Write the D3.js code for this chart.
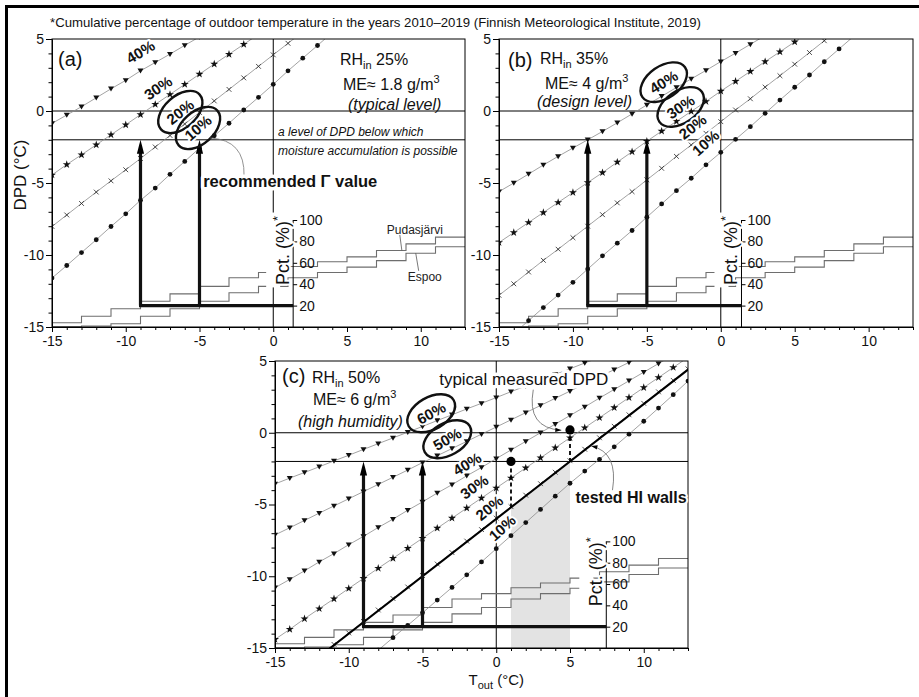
<!DOCTYPE html>
<html>
<head>
<meta charset="utf-8">
<script src="https://cdn.jsdelivr.net/npm/d3@7"></script>
<style>
  body { margin: 0; background: #fff; }
  svg { display: block; font-family: "Liberation Sans", Arial, Helvetica, sans-serif; }
  .halo { paint-order: stroke; stroke: #fff; stroke-width: 4px; stroke-linejoin: round; }
  .halo-wide { paint-order: stroke; stroke: #fff; stroke-width: 7px; stroke-linejoin: round; }
</style>
</head>
<body>
<svg id="chart" width="919" height="697"></svg>
<script>
// Outdoor temperature grid (°C) shared by all DPD curves
const tOut = [-15,-14,-13,-12,-11,-10,-9,-8,-7,-6,-5,-4,-3,-2,-1,0,1,2,3,4,5,6,7,8,9,10,11,12,13];

// DPD (°C) curves for RH_in 25 % (panel a), keyed by outdoor RH
const a40 = [-0.86,-0.28,0.3,0.92,1.54,2.13,2.79,3.37,3.95,4.56,5.15];
const a30 = [-4.44,-3.72,-3.04,-2.35,-1.65,-0.96,-0.25,0.46,1.15,1.85,2.56,3.26,3.94,4.63,5.33];
const a20 = [-8.02,-7.22,-6.42,-5.63,-4.85,-4.08,-3.3,-2.5,-1.7,-0.9,-0.1,0.7,1.5,2.3,3.1,3.9,4.7,5.5];
const a10 = [-11.6,-10.73,-9.83,-8.94,-8.02,-7.14,-6.2,-5.35,-4.4,-3.5,-2.58,-1.72,-0.85,0.07,0.95,1.85,2.79,3.67,4.55,5.45];

// RH_in 35 % (panel b)
const b40 = [-5.6,-5.0,-4.38,-3.75,-3.15,-2.57,-2.0,-1.42,-0.82,-0.2,0.42,1.02,1.63,2.23,2.82,3.43,4.02,4.63,5.24];
const b30 = [-9.13,-8.44,-7.74,-7.05,-6.35,-5.66,-4.97,-4.28,-3.55,-2.83,-2.1,-1.4,-0.72,-0.03,0.66,1.38,2.06,2.75,3.43,4.11,4.8,5.5];
const b20 = [-12.8,-12.0,-11.18,-10.37,-9.6,-8.8,-8.0,-7.2,-6.38,-5.6,-4.78,-3.98,-3.15,-2.36,-1.55,-0.74,0.07,0.85,1.66,2.45,3.25,4.06,4.88,5.7];
const b10 = [-16.35,-15.45,-14.56,-13.65,-12.78,-11.9,-10.98,-10.06,-9.18,-8.3,-7.37,-6.45,-5.53,-4.67,-3.74,-2.87,-1.97,-1.09,-0.16,0.76,1.65,2.5,3.42,4.31,5.2];

// RH_in 50 % (panel c)
const c60 = [-3.57,-3.16,-2.77,-2.37,-1.96,-1.57,-1.16,-0.76,-0.36,0.04,0.44,0.85,1.25,1.66,2.05,2.45,2.86,3.26,3.65,4.06,4.46,4.86,5.26];
const c50 = [-7.12,-6.62,-6.11,-5.6,-5.1,-4.6,-4.1,-3.6,-3.1,-2.6,-2.08,-1.6,-1.1,-0.6,-0.1,0.4,0.9,1.4,1.9,2.4,2.9,3.4,3.9,4.4,4.9,5.4];
const c40 = [-10.8,-10.22,-9.62,-9.0,-8.42,-7.8,-7.22,-6.6,-6.02,-5.4,-4.82,-4.2,-3.62,-3.0,-2.42,-1.8,-1.2,-0.6,0.0,0.6,1.2,1.8,2.42,3.02,3.62,4.22,4.82,5.42];
const c30 = [-14.4,-13.7,-12.96,-12.26,-11.57,-10.85,-10.15,-9.44,-8.75,-8.05,-7.35,-6.65,-5.95,-5.25,-4.55,-3.85,-3.15,-2.45,-1.75,-1.05,-0.35,0.35,1.05,1.75,2.45,3.15,3.85,4.55,5.25];
const c20 = [null,null,null,-15.55,-14.75,-13.95,-13.15,-12.35,-11.55,-10.75,-9.95,-9.15,-8.35,-7.55,-6.75,-5.95,-5.15,-4.35,-3.55,-2.75,-1.95,-1.15,-0.35,0.45,1.25,2.05,2.85,3.65,4.45];
const c10 = [null,null,null,null,null,null,null,-15.15,-14.28,-13.42,-12.55,-11.66,-10.78,-9.9,-9.0,-8.08,-7.17,-6.26,-5.34,-4.42,-3.52,-2.67,-1.85,-0.98,-0.1,0.8,1.72,2.65,3.6];

// Tested HI walls and typical measured DPD (panel c)
const testedT = [-15, 13];
const testedDPD = [-18, 4.4];
const measuredT = [1, 5];
const measuredDPD = [-2, 0.2];

// Cumulative share (%) of hours below each 2 °C temperature band, 2010–2019
const stepEdges = [-15,-13,-11,-9,-7,-5,-3,-1,1,3,5,7,9,11,13];
const pctPudasjarvi = [4,10,17,24,31,38,46,51,56.5,61,65.5,71.5,77.7,84];
const pctEspoo = [0.3,1,3,10,17,24,32,38,46,51,56,62,69,75];

// Axis ticks
const dpdTicks = [5,0,-5,-10,-15];
const tTicks = [-15,-10,-5,0,5,10];
const pctTicks = [20,40,60,80,100];

// Reference levels and arrows
const dpdLevels = [0, -2];
const arrowT = [-9, -5];
const arrowPct = 20;
const arrowTopDPD = -2;

const svg = d3.select("#chart");
const defs = svg.append("defs");

function pad(vals) {
  const out = vals.slice();
  while (out.length < tOut.length) out.push(null);
  return out;
}

function head(g, tip, from, len, half) {
  const dx = tip[0] - from[0], dy = tip[1] - from[1];
  const l = Math.hypot(dx, dy), ux = dx / l, uy = dy / l;
  const bx = tip[0] - ux * len, by = tip[1] - uy * len;
  g.append("path")
    .attr("d", `M${tip[0]},${tip[1]}L${bx - uy * half},${by + ux * half}L${bx + uy * half},${by - ux * half}Z`)
    .attr("fill", "#000");
}

const markerDraw = {
  tri: (g, px, py) => g.append("path").attr("d", `M${px-3},${py-2.2}L${px+3},${py-2.2}L${px},${py+2.8}Z`).attr("fill", "#111"),
  star: (g, px, py) => g.append("path").attr("d", d3.symbol(d3.symbolStar, 20)()).attr("transform", `translate(${px},${py})`).attr("fill", "#111"),
  cross: (g, px, py) => g.append("path").attr("d", `M${px-2.4},${py-2.4}L${px+2.4},${py+2.4}M${px-2.4},${py+2.4}L${px+2.4},${py-2.4}`).attr("stroke", "#222").attr("stroke-width", 0.8),
  dot: (g, px, py) => g.append("circle").attr("cx", px).attr("cy", py).attr("r", 2.4).attr("fill", "#111")
};

const panels = [
  {
    id: "a", left: 52, right: 465, top: 39, bottom: 327, pctAt: 1.35,
    series: [{v: pad(a40), m: "tri"}, {v: pad(a30), m: "star"}, {v: pad(a20), m: "cross"}, {v: pad(a10), m: "dot"}],
    labels: [
      {t: "40%", T: -9.0, D: 4.1, r: -31}, {t: "30%", T: -7.8, D: 1.6, r: -34},
      {t: "20%", T: -6.3, D: -0.07, r: -38, ring: true}, {t: "10%", T: -5.1, D: -1.18, r: -41, ring: true}
    ],
    ringRot: -42,
    name: "(a)", nameAt: [6, 27], rh: "25%", me: "1.8", level: "(typical level)",
    rhAt: [288, 26], meAt: [291, 51], levelAt: [296, 71],
    yLabel: true, cities: true, recommended: true
  },
  {
    id: "b", left: 499, right: 913, top: 39, bottom: 327, pctAt: 1.4,
    series: [{v: pad(b40), m: "tri"}, {v: pad(b30), m: "star"}, {v: pad(b20), m: "cross"}, {v: pad(b10), m: "dot"}],
    labels: [
      {t: "40%", T: -3.86, D: 2.0, r: -32, ring: true}, {t: "30%", T: -2.71, D: 0.28, r: -34, ring: true},
      {t: "20%", T: -1.9, D: -1.11, r: -38}, {t: "10%", T: -1.02, D: -2.22, r: -42}
    ],
    ringRot: -35,
    name: "(b)", nameAt: [9, 28], rh: "35%", me: "4", level: "(design level)",
    rhAt: [41, 25], meAt: [46, 50], levelAt: [38, 68]
  },
  {
    id: "c", left: 275, right: 688, top: 361, bottom: 648, pctAt: 7.46,
    series: [{v: pad(c60), m: "tri"}, {v: pad(c50), m: "tri"}, {v: pad(c40), m: "tri"}, {v: pad(c30), m: "star"}, {v: pad(c20), m: "cross"}, {v: pad(c10), m: "dot"}],
    labels: [
      {t: "60%", T: -4.41, D: 1.36, r: -28, ring: true}, {t: "50%", T: -3.32, D: -0.45, r: -30, ring: true},
      {t: "40%", T: -1.97, D: -2.18, r: -31}, {t: "30%", T: -1.49, D: -3.78, r: -35},
      {t: "20%", T: -0.47, D: -5.25, r: -39}, {t: "10%", T: 0.41, D: -6.64, r: -42}
    ],
    ringRot: -30,
    name: "(c)", nameAt: [7, 22], rh: "50%", me: "6", level: "(high humidity)",
    rhAt: [37, 22], meAt: [38, 44], levelAt: [23, 66],
    xLabel: true, tested: true
  }
];

function drawPanel(p) {
  const x = d3.scaleLinear().domain([-15, 13]).range([p.left, p.right]);
  const y = d3.scaleLinear().domain([-15, 5]).range([p.bottom, p.top]);
  const pct = d3.scaleLinear().domain([0, 100]).range([y(-15), y(-7.57)]);
  const w = p.right - p.left, h = p.bottom - p.top;

  defs.append("clipPath").attr("id", "clip-" + p.id)
    .append("rect").attr("x", p.left).attr("y", p.top).attr("width", w).attr("height", h);

  const g = svg.append("g");
  const plot = g.append("g").attr("clip-path", `url(#clip-${p.id})`);

  // shaded range of tested walls between the typical measured temperatures
  if (p.tested) {
    const tested = d3.scaleLinear().domain(testedT).range(testedDPD);
    const poly = [[measuredT[0], -15], [measuredT[0], tested(measuredT[0])], [measuredT[1], tested(measuredT[1])], [measuredT[1], -15]];
    plot.append("path")
      .attr("d", "M" + poly.map(q => `${x(q[0])},${y(q[1])}`).join("L") + "Z")
      .attr("fill", "#e3e3e3");
  }

  // reference lines at T = 0 and DPD = 0, -2
  plot.append("line").attr("x1", x(0)).attr("x2", x(0)).attr("y1", p.top).attr("y2", p.bottom)
    .attr("stroke", "#000").attr("stroke-width", 1);
  dpdLevels.forEach(d => plot.append("line").attr("x1", p.left).attr("x2", p.right)
    .attr("y1", y(d)).attr("y2", y(d)).attr("stroke", "#000").attr("stroke-width", 1));

  // cumulative temperature distributions
  const step = d3.line().x(q => x(q[0])).y(q => pct(q[1])).curve(d3.curveStepAfter);
  [pctPudasjarvi, pctEspoo].forEach(arr => {
    const pts = stepEdges.map((e, i) => [e, arr[Math.min(i, arr.length - 1)]]);
    plot.append("path").attr("d", step(pts)).attr("fill", "none")
      .attr("stroke", "#6e6e6e").attr("stroke-width", 1.1);
  });

  // DPD curves with markers
  const line = d3.line().defined(d => d[1] !== null).x(d => x(d[0])).y(d => y(d[1]));
  p.series.forEach(s => {
    const pts = tOut.map((t, i) => [t, s.v[i]]);
    plot.append("path").attr("d", line(pts)).attr("fill", "none")
      .attr("stroke", "#8c8c8c").attr("stroke-width", 0.8);
    pts.filter(d => d[1] !== null).forEach(d => markerDraw[s.m](plot, x(d[0]), y(d[1])));
  });

  if (p.tested) {
    const tested = d3.scaleLinear().domain(testedT).range(testedDPD);
    plot.append("line").attr("x1", x(testedT[0])).attr("y1", y(testedDPD[0]))
      .attr("x2", x(testedT[1])).attr("y2", y(testedDPD[1]))
      .attr("stroke", "#000").attr("stroke-width", 2);
    measuredT.forEach((t, i) => {
      plot.append("line").attr("x1", x(t)).attr("x2", x(t))
        .attr("y1", y(measuredDPD[i])).attr("y2", y(tested(t)))
        .attr("stroke", "#000").attr("stroke-width", 1.8).attr("stroke-dasharray", "4,3");
      plot.append("circle").attr("cx", x(t)).attr("cy", y(measuredDPD[i])).attr("r", 4.6).attr("fill", "#000");
    });
  }

  // frame and main axes
  g.append("rect").attr("x", p.left).attr("y", p.top).attr("width", w).attr("height", h)
    .attr("fill", "none").attr("stroke", "#000").attr("stroke-width", 1);

  const fmt = d => String(d);
  const minorY = d3.range(-15, 6).filter(d => d % 5 !== 0);
  const minorX = d3.range(-15, 14).filter(d => d % 5 !== 0);

  const yAx = g.append("g").attr("transform", `translate(${p.left},0)`)
    .call(d3.axisLeft(y).tickValues(dpdTicks).tickFormat(fmt).tickSize(6).tickSizeOuter(0));
  g.append("g").attr("transform", `translate(${p.left},0)`)
    .call(d3.axisLeft(y).tickValues(minorY).tickFormat("").tickSize(3.5).tickSizeOuter(0));
  const xAx = g.append("g").attr("transform", `translate(0,${p.bottom})`)
    .call(d3.axisBottom(x).tickValues(tTicks).tickFormat(fmt).tickSize(5).tickSizeOuter(0));
  g.append("g").attr("transform", `translate(0,${p.bottom})`)
    .call(d3.axisBottom(x).tickValues(minorX.concat([13])).tickFormat("").tickSize(3).tickSizeOuter(0));
  [yAx, xAx].forEach(a => a.selectAll("text").attr("font-size", 14).attr("fill", "#111")
    .attr("font-family", '"Liberation Sans", Arial, sans-serif'));
  yAx.selectAll("text").attr("x", -8);
  xAx.selectAll("text").attr("y", 9);
  g.selectAll(".domain").attr("stroke", "#000");
  g.selectAll(".tick line").attr("stroke", "#000");

  // secondary percentage axis
  const px0 = x(p.pctAt);
  const labelCenter = pct(71.5);
  g.append("rect").attr("x", px0 - 27).attr("y", pct(107)).attr("width", 14)
    .attr("height", pct(37) - pct(107)).attr("fill", "#fff");
  g.append("line").attr("x1", px0).attr("x2", px0).attr("y1", pct(100)).attr("y2", p.bottom)
    .attr("stroke", "#000").attr("stroke-width", 1);
  const pAx = g.append("g").attr("transform", `translate(${px0},0)`)
    .call(d3.axisRight(pct).tickValues(pctTicks).tickFormat(fmt).tickSize(4).tickSizeOuter(0));
  pAx.select(".domain").remove();
  pAx.selectAll("text").attr("font-size", 14).attr("fill", "#111").attr("x", 6)
    .attr("font-family", '"Liberation Sans", Arial, sans-serif');
  const pl = g.append("text").attr("class", "halo")
    .attr("transform", `translate(${px0 - 4},${labelCenter}) rotate(-90)`)
    .attr("text-anchor", "middle").attr("font-size", 18).attr("fill", "#111");
  pl.append("tspan").text("Pct. (%)");
  pl.append("tspan").attr("dy", -7).attr("font-size", 13).text("*");

  // thick arrows from the 20 % share up to the DPD = -2 level
  const yArrow = pct(arrowPct);
  g.append("line").attr("x1", x(arrowT[0]) - 1.5).attr("x2", px0).attr("y1", yArrow).attr("y2", yArrow)
    .attr("stroke", "#111").attr("stroke-width", 3.2);
  arrowT.forEach(t => {
    const tip = [x(t), y(arrowTopDPD)];
    g.append("line").attr("x1", x(t)).attr("x2", x(t)).attr("y1", yArrow).attr("y2", tip[1] + 10)
      .attr("stroke", "#111").attr("stroke-width", 3.2);
    head(g, tip, [x(t), yArrow], 14, 3.6);
  });

  // curve labels
  p.labels.forEach(l => {
    const cx = x(l.T), cy = y(l.D);
    g.append("text").attr("class", "halo")
      .attr("transform", `translate(${cx},${cy}) rotate(${l.r})`)
      .attr("text-anchor", "middle").attr("dy", "0.35em")
      .attr("font-size", 15).attr("font-weight", "bold").attr("fill", "#111").text(l.t);
    if (l.ring) {
      g.append("ellipse").attr("cx", cx).attr("cy", cy).attr("rx", 26).attr("ry", 16)
        .attr("transform", `rotate(${p.ringRot},${cx},${cy})`)
        .attr("fill", "none").attr("stroke", "#111").attr("stroke-width", 2.4);
    }
  });

  // panel title block
  g.append("text").attr("x", p.left + p.nameAt[0]).attr("y", p.top + p.nameAt[1])
    .attr("font-size", 20).attr("fill", "#111").text(p.name);
  const rh = g.append("text").attr("x", p.left + p.rhAt[0]).attr("y", p.top + p.rhAt[1])
    .attr("font-size", 16).attr("fill", "#111");
  rh.append("tspan").text("RH");
  rh.append("tspan").attr("font-size", 11).attr("dy", 4).text("in");
  rh.append("tspan").attr("dy", -4).text(" " + p.rh);
  const me = g.append("text").attr("x", p.left + p.meAt[0]).attr("y", p.top + p.meAt[1])
    .attr("font-size", 16).attr("fill", "#111");
  me.append("tspan").text(`ME\u2248 ${p.me} g/m`);
  me.append("tspan").attr("font-size", 11).attr("dy", -7).text("3");
  g.append("text").attr("x", p.left + p.levelAt[0]).attr("y", p.top + p.levelAt[1])
    .attr("font-size", 16).attr("font-style", "italic").attr("fill", "#111").text(p.level);

  if (p.yLabel) {
    g.append("text").attr("transform", `translate(${p.left - 26},${(p.top + p.bottom) / 2 - 8}) rotate(-90)`)
      .attr("text-anchor", "middle").attr("font-size", 17).attr("fill", "#111").text("DPD (\u00b0C)");
  }
  if (p.xLabel) {
    const xl = g.append("text").attr("x", x(0)).attr("y", p.bottom + 37)
      .attr("text-anchor", "middle").attr("font-size", 15).attr("fill", "#111");
    xl.append("tspan").text("T");
    xl.append("tspan").attr("font-size", 11).attr("dy", 4).text("out");
    xl.append("tspan").attr("dy", -4).text(" (\u00b0C)");
  }

  if (p.cities) {
    g.append("text").attr("x", x(7.7)).attr("y", y(-8.54)).attr("font-size", 12).attr("fill", "#222").text("Pudasjärvi");
    g.append("line").attr("x1", x(8.58)).attr("y1", y(-8.61)).attr("x2", x(8.72)).attr("y2", pct(pctPudasjarvi[11]))
      .attr("stroke", "#555").attr("stroke-width", 0.8);
    g.append("text").attr("x", x(9.12)).attr("y", y(-11.8)).attr("font-size", 12).attr("fill", "#222").text("Espoo");
    g.append("line").attr("x1", x(9.86)).attr("y1", y(-11.1)).attr("x2", x(9.66)).attr("y2", pct(pctEspoo[12]))
      .attr("stroke", "#555").attr("stroke-width", 0.8);
  }

  if (p.recommended) {
    const ta = g.append("text").attr("font-size", 12).attr("font-style", "italic").attr("fill", "#111");
    ta.append("tspan").attr("x", x(0.33)).attr("y", y(-1.74)).text("a level of DPD below which");
    ta.append("tspan").attr("x", x(0.33)).attr("y", y(-3.06)).text("moisture accumulation is possible");
    const s = [x(-4.27), y(-1.875)], c = [x(-1.91), y(-2.01)], e = [x(-1.98), y(-4.51)];
    g.append("path").attr("d", `M${s}Q${c} ${e}`).attr("fill", "none").attr("stroke", "#777").attr("stroke-width", 0.8);
    g.append("text").attr("class", "halo-wide").attr("x", x(-4.75)).attr("y", y(-5.28)).attr("font-size", 16.5)
      .attr("font-weight", "bold").attr("fill", "#111").text("recommended \u0393 value");
  }

  if (p.tested) {
    g.append("text").attr("class", "halo-wide").attr("x", x(-3.87)).attr("y", y(3.31))
      .attr("font-size", 17).attr("fill", "#111").text("typical measured DPD");
    const s1 = [x(2.51), y(3.0)], c1 = [x(2.04), y(0.32)], e1 = [x(4.41), y(0.18)];
    g.append("path").attr("d", `M${s1}Q${c1} ${e1}`).attr("fill", "none").attr("stroke", "#777").attr("stroke-width", 0.9);
    head(g, e1, c1, 6, 2.2);
    g.append("text").attr("class", "halo").attr("x", x(5.37)).attr("y", y(-4.9)).attr("font-size", 16).attr("font-weight", "bold")
      .attr("fill", "#111").text("tested HI walls");
    const s2 = [x(7.88), y(-4.0)], c2 = [x(8.29), y(-1.35)], e2 = [x(6.45), y(-0.93)];
    g.append("path").attr("d", `M${s2}Q${c2} ${e2}`).attr("fill", "none").attr("stroke", "#777").attr("stroke-width", 0.9);
    head(g, e2, c2, 6, 2.2);
  }
}

panels.forEach(drawPanel);

// footnote and frame lines
svg.append("text").attr("x", 50).attr("y", 27).attr("font-size", 13.2).attr("fill", "#111")
  .text("*Cumulative percentage of outdoor temperature in the years 2010\u20132019 (Finnish Meteorological Institute, 2019)");
svg.append("line").attr("x1", 5).attr("x2", 919).attr("y1", 6.5).attr("y2", 6.5).attr("stroke", "#000").attr("stroke-width", 3);
svg.append("line").attr("x1", 6.5).attr("x2", 6.5).attr("y1", 5).attr("y2", 697).attr("stroke", "#000").attr("stroke-width", 3);
</script>
</body>
</html>
